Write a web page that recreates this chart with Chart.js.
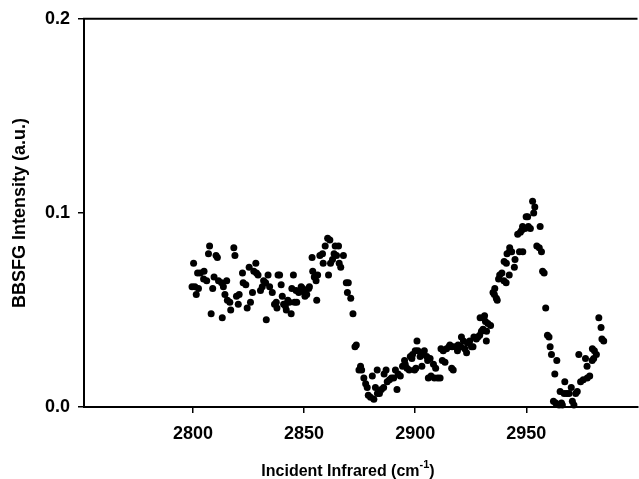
<!DOCTYPE html>
<html>
<head>
<meta charset="utf-8">
<script src="https://cdn.jsdelivr.net/npm/chart.js@4.4.1/dist/chart.umd.min.js"></script>
<style>
  body { margin: 0; overflow: hidden; background: #fff; }
</style>
</head>
<body>
<canvas id="sfgChart" width="641" height="479"></canvas>
<script>
// incident IR wavenumber (cm-1), low -> high
const wavenumber = [
  2799.6, 2800.3, 2800.9, 2801.5, 2802.1, 2802.5, 2803.3, 2804.8, 2805.0, 2806.2,
  2807.0, 2807.5, 2808.2, 2808.9, 2809.5, 2810.4, 2811.0, 2811.5, 2812.9, 2813.2,
  2813.7, 2814.4, 2815.2, 2815.5, 2816.6, 2817.0, 2818.4, 2818.9, 2819.6, 2820.4,
  2820.8, 2822.3, 2822.6, 2823.8, 2824.4, 2825.3, 2825.9, 2826.8, 2827.4, 2828.3,
  2828.6, 2829.3, 2830.4, 2831.2, 2831.8, 2832.7, 2833.0, 2833.8, 2834.5, 2835.7,
  2836.7, 2837.5, 2837.8, 2838.3, 2839.0, 2839.7, 2840.2, 2840.8, 2841.6, 2842.0,
  2842.7, 2843.4, 2844.2, 2844.5, 2845.2, 2845.7, 2846.4, 2846.7, 2847.6, 2848.7,
  2849.4, 2850.1, 2850.4, 2851.2, 2852.1, 2852.4, 2853.6, 2853.9, 2854.6, 2855.4,
  2855.7, 2856.1, 2857.1, 2858.3, 2858.6, 2859.5, 2860.6, 2861.0, 2861.6, 2861.9,
  2862.8, 2863.5, 2864.0, 2864.6, 2865.5, 2865.8, 2866.5, 2867.7, 2869.0, 2869.5,
  2869.9, 2871.0, 2872.0, 2872.9, 2873.5,
  2874.7, 2875.4, 2875.9, 2876.9, 2877.7, 2878.4, 2878.9, 2879.9, 2880.7, 2881.4,
  2882.1, 2882.9, 2883.0, 2883.9, 2884.8, 2885.8, 2886.0, 2886.9, 2887.4, 2888.4,
  2889.3, 2890.3, 2891.1, 2891.8, 2892.3, 2893.3, 2894.3, 2895.2, 2895.5, 2896.3,
  2897.3, 2897.8, 2898.5, 2898.8, 2899.7, 2900.0, 2900.3, 2900.8, 2901.2, 2902.2,
  2903.0, 2903.3, 2904.1, 2905.2, 2905.6, 2905.9, 2906.7, 2907.1, 2908.2, 2908.6,
  2909.2, 2910.1, 2911.2, 2911.6, 2912.2, 2912.6, 2913.4, 2914.1, 2915.2, 2915.6,
  2916.4, 2916.6, 2917.1, 2917.9, 2919.0, 2919.3, 2920.5, 2920.8, 2921.7, 2922.3,
  2923.1, 2923.5, 2924.5, 2925.3, 2926.0, 2926.4, 2927.5, 2928.2, 2929.0, 2929.2,
  2929.8, 2930.5, 2930.7, 2931.2, 2931.6, 2932.0, 2932.1, 2932.7, 2933.9,
  2935.0, 2935.6, 2935.8, 2936.5, 2936.9, 2937.5, 2938.0, 2939.0, 2939.9, 2940.0,
  2940.9, 2941.0, 2941.3, 2942.3, 2942.4, 2942.5, 2943.4, 2944.6, 2944.9, 2946.1,
  2946.9, 2947.3, 2947.9, 2948.3, 2948.4, 2949.4, 2949.9, 2950.6, 2950.9, 2951.8,
  2952.8, 2953.3, 2953.8, 2954.7, 2955.8, 2956.2, 2956.8, 2957.3, 2958.0, 2958.7,
  2959.5, 2960.2, 2960.7, 2961.3, 2962.2, 2962.8, 2963.2, 2963.7, 2964.7, 2965.2,
  2965.8, 2966.2, 2967.0, 2967.3, 2968.2, 2969.2, 2970.2, 2970.7, 2971.4, 2972.2,
  2972.9, 2973.6, 2974.4, 2975.6, 2976.6, 2977.3, 2977.4, 2978.5, 2979.6, 2979.7,
  2980.3, 2980.6, 2981.5, 2982.6, 2983.6, 2984.0, 2984.8
];

// BBSFG intensity (a.u.) for each wavenumber above
const intensity = [
  0.062, 0.074, 0.062, 0.058, 0.069, 0.061, 0.069, 0.066, 0.070, 0.065,
  0.079, 0.083, 0.048, 0.061, 0.067, 0.078, 0.077, 0.065, 0.064, 0.046,
  0.062, 0.058, 0.065, 0.055, 0.054, 0.050, 0.082, 0.078, 0.057, 0.053,
  0.058, 0.069, 0.064, 0.063, 0.051, 0.072, 0.054, 0.059, 0.070, 0.074,
  0.069, 0.068, 0.060, 0.062, 0.065, 0.064, 0.045, 0.068, 0.062, 0.059,
  0.053, 0.054, 0.051, 0.068, 0.068, 0.063, 0.057, 0.053, 0.052, 0.050,
  0.055, 0.054, 0.048, 0.061, 0.068, 0.054, 0.060, 0.054, 0.059, 0.062,
  0.061, 0.059, 0.057, 0.058, 0.061, 0.062, 0.077, 0.070, 0.067, 0.065,
  0.055, 0.068, 0.078, 0.079, 0.074, 0.083, 0.087, 0.068, 0.086, 0.074,
  0.076, 0.079, 0.083, 0.078, 0.083, 0.074, 0.072, 0.078, 0.064, 0.059,
  0.064, 0.056, 0.048, 0.031, 0.032,
  0.019, 0.021, 0.019, 0.015, 0.012, 0.010, 0.006, 0.005, 0.016, 0.004,
  0.010, 0.019, 0.007, 0.007, 0.009, 0.010, 0.017, 0.019, 0.013, 0.014,
  0.015, 0.015, 0.019, 0.009, 0.017, 0.016, 0.021, 0.024, 0.022, 0.020,
  0.019, 0.026, 0.025, 0.027, 0.019, 0.029, 0.020, 0.034, 0.029, 0.026,
  0.021, 0.027, 0.029, 0.026, 0.024, 0.015, 0.025, 0.016, 0.022, 0.015,
  0.020, 0.015, 0.015, 0.030, 0.024, 0.029, 0.023, 0.030, 0.031, 0.032,
  0.020, 0.031, 0.019, 0.031, 0.029, 0.032, 0.031, 0.036, 0.034, 0.030,
  0.028, 0.033, 0.034, 0.031, 0.031, 0.036, 0.035, 0.036, 0.037, 0.046,
  0.039, 0.040, 0.046, 0.047, 0.044, 0.034, 0.039, 0.043, 0.042,
  0.059, 0.058, 0.061, 0.056, 0.055, 0.066, 0.068, 0.069, 0.065, 0.075,
  0.064, 0.074, 0.079, 0.068, 0.080, 0.082, 0.080, 0.072, 0.076, 0.089,
  0.080, 0.090, 0.091, 0.093, 0.080, 0.092, 0.098, 0.098, 0.093, 0.092,
  0.106, 0.100, 0.103, 0.083, 0.082, 0.093, 0.080, 0.070, 0.069, 0.051,
  0.037, 0.036, 0.031, 0.027, 0.003, 0.017, 0.002, 0.024, 0.001, 0.008,
  0.002, 0.001, 0.007, 0.013, 0.007, 0.007, 0.010, 0.003, 0.001, 0.007,
  0.008, 0.027, 0.013, 0.014, 0.025, 0.021, 0.015, 0.016, 0.024, 0.030,
  0.025, 0.029, 0.027, 0.046, 0.041, 0.035, 0.034
];

const xTicks = [2800, 2850, 2900, 2950];
const yTicks = [0.0, 0.1, 0.2];

const yTitle = 'BBSFG Intensity (a.u.)';
const xTitleMain = 'Incident Infrared (cm';
const xTitleSup = '-1';
const xTitleEnd = ')';

const fontFamily = '"Liberation Sans", Arial, Helvetica, sans-serif';

const points = wavenumber.map((w, i) => ({ x: w, y: intensity[i] }));

// top frame line + x title with a raised "-1"
const frameAndTitle = {
  id: 'frameAndTitle',
  afterDraw(chart) {
    const ctx = chart.ctx;
    const area = chart.chartArea;
    ctx.save();
    ctx.strokeStyle = '#000';
    ctx.lineWidth = 2;
    ctx.beginPath();
    ctx.moveTo(area.left - 1, area.top);
    ctx.lineTo(area.right, area.top);
    ctx.stroke();

    const big = 'bold 16px ' + fontFamily;
    const small = 'bold 11px ' + fontFamily;
    ctx.fillStyle = '#000';
    ctx.textAlign = 'left';
    ctx.textBaseline = 'alphabetic';
    ctx.font = big;
    const w1 = ctx.measureText(xTitleMain).width;
    const w3 = ctx.measureText(xTitleEnd).width;
    ctx.font = small;
    const w2 = ctx.measureText(xTitleSup).width;
    let x = 348 - (w1 + w2 + w3) / 2;
    const y = 476;
    ctx.font = big;
    ctx.fillText(xTitleMain, x, y);
    x += w1;
    ctx.font = small;
    ctx.fillText(xTitleSup, x, y - 8);
    x += w2;
    ctx.font = big;
    ctx.fillText(xTitleEnd, x, y);
    ctx.restore();
  }
};

const ctx = document.getElementById('sfgChart').getContext('2d');
const sfgChart = new Chart(ctx, {
  type: 'scatter',
  data: {
    datasets: [{
      data: points,
      pointRadius: 3.5,
      pointHoverRadius: 3.5,
      pointBackgroundColor: '#000',
      pointBorderWidth: 0,
      showLine: false,
      clip: false
    }]
  },
  options: {
    responsive: false,
    animation: false,
    devicePixelRatio: 1,
    layout: { padding: { top: 17, left: 0, right: 0, bottom: 0 } },
    plugins: {
      legend: { display: false },
      tooltip: { enabled: false }
    },
    scales: {
      x: {
        type: 'linear',
        min: 2751,
        max: 3000,
        afterBuildTicks: scale => { scale.ticks = xTicks.map(v => ({ value: v })); },
        afterFit: scale => { scale.height = 72; },
        grid: { drawOnChartArea: false, tickLength: 6, color: '#000', lineWidth: 1.5 },
        border: { color: '#000', width: 2 },
        ticks: {
          color: '#000',
          padding: 10,
          maxRotation: 0,
          font: { family: fontFamily, size: 18, weight: 'bold' },
          callback: v => String(v)
        }
      },
      y: {
        min: 0,
        max: 0.2,
        afterBuildTicks: scale => { scale.ticks = yTicks.map(v => ({ value: v })); },
        afterFit: scale => { scale.width = 84; },
        grid: { drawOnChartArea: false, tickLength: 6, color: '#000', lineWidth: 1.5 },
        border: { color: '#000', width: 2 },
        ticks: {
          color: '#000',
          padding: 8,
          font: { family: fontFamily, size: 18, weight: 'bold' },
          callback: v => v.toFixed(1)
        },
        title: {
          display: true,
          text: yTitle,
          color: '#000',
          padding: { top: 9, bottom: 4 },
          font: { family: fontFamily, size: 18, weight: 'bold' }
        }
      }
    }
  },
  plugins: [frameAndTitle]
});
</script>
</body>
</html>
